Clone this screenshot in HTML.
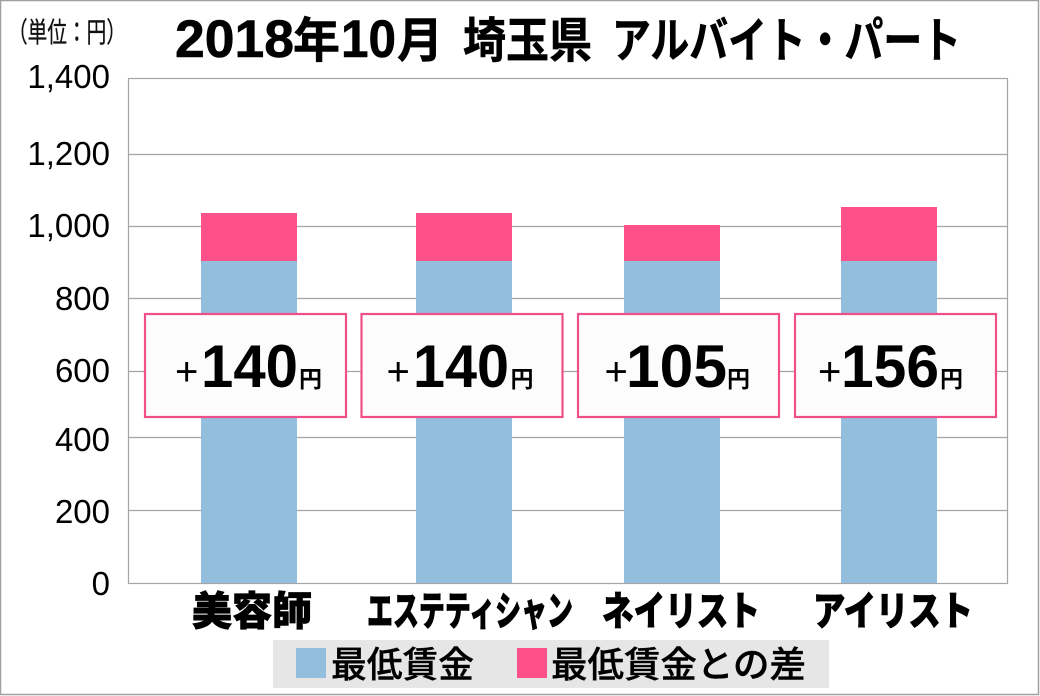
<!DOCTYPE html>
<html>
<head>
<meta charset="utf-8">
<style>
  html,body{margin:0;padding:0;background:#fff;}
  svg{display:block;}
  .jp{font-family:"Liberation Sans","Noto Sans CJK JP",sans-serif;}
  .num{font-family:"Liberation Sans",sans-serif;}
</style>
</head>
<body>
<svg width="1040" height="696" viewBox="0 0 1040 696" xmlns="http://www.w3.org/2000/svg">
  <rect x="0" y="0" width="1040" height="696" fill="#ffffff"/>
  <rect x="0.5" y="0.5" width="1038" height="694" fill="none" stroke="#a0a0a0" stroke-width="1.5"/>

  <!-- unit label -->
  <text class="jp" x="8" y="42" font-size="28" textLength="118" lengthAdjust="spacingAndGlyphs" fill="#111" stroke="#111" stroke-width="0.3">（単位：円）</text>

  <!-- title -->
  <g font-weight="bold" fill="#000" stroke="#000" stroke-width="0.6">
    <text class="num" x="175" y="57" font-size="53" textLength="119" lengthAdjust="spacingAndGlyphs">2018</text>
    <text class="jp" x="293" y="57" font-size="48" textLength="47" lengthAdjust="spacingAndGlyphs">年</text>
    <text class="num" x="341" y="57" font-size="53" textLength="55" lengthAdjust="spacingAndGlyphs">10</text>
    <text class="jp" x="397" y="57" font-size="48" textLength="46" lengthAdjust="spacingAndGlyphs">月</text>
    <text class="jp" x="463" y="57" font-size="48" textLength="129" lengthAdjust="spacingAndGlyphs">埼玉県</text>
    <text class="jp" x="612" y="57" font-size="48" textLength="349" lengthAdjust="spacingAndGlyphs">アルバイト・パート</text>
  </g>

  <!-- plot area -->
  <rect x="128.5" y="78.5" width="879" height="505" fill="#ffffff" stroke="#a6a6a6" stroke-width="1.2"/>
  <g stroke="#a6a6a6" stroke-width="1.2">
    <line x1="128" y1="154.5" x2="1007" y2="154.5"/>
    <line x1="128" y1="226.5" x2="1007" y2="226.5"/>
    <line x1="128" y1="298.5" x2="1007" y2="298.5"/>
    <line x1="128" y1="371.5" x2="1007" y2="371.5"/>
    <line x1="128" y1="437.5" x2="1007" y2="437.5"/>
    <line x1="128" y1="510.5" x2="1007" y2="510.5"/>
  </g>

  <!-- y tick labels -->
  <g class="num" font-size="33" text-anchor="end" fill="#000">
    <text x="110" y="88">1,400</text>
    <text x="110" y="165">1,200</text>
    <text x="110" y="237">1,000</text>
    <text x="110" y="310">800</text>
    <text x="110" y="382">600</text>
    <text x="110" y="451">400</text>
    <text x="110" y="523">200</text>
    <text x="110" y="595">0</text>
  </g>

  <!-- bars -->
  <g>
    <rect x="201" y="261" width="96" height="322" fill="#93bedd"/>
    <rect x="201" y="213" width="96" height="48" fill="#ff5189"/>
    <rect x="416" y="261" width="96" height="322" fill="#93bedd"/>
    <rect x="416" y="213" width="96" height="48" fill="#ff5189"/>
    <rect x="624" y="261" width="96" height="322" fill="#93bedd"/>
    <rect x="624" y="225" width="96" height="36" fill="#ff5189"/>
    <rect x="841" y="261" width="96" height="322" fill="#93bedd"/>
    <rect x="841" y="207" width="96" height="54" fill="#ff5189"/>
  </g>

  <!-- label boxes -->
  <g fill="#fcfcfd" stroke="#f0508a" stroke-width="2.2">
    <rect x="145" y="314" width="201" height="103"/>
    <rect x="361.5" y="314" width="201" height="103"/>
    <rect x="578" y="314" width="201" height="103"/>
    <rect x="795" y="314" width="201" height="103"/>
  </g>

  <g fill="#000">
    <!-- plus signs -->
    <g class="num" font-size="40">
      <text x="175" y="385">+</text>
      <text x="386.5" y="385">+</text>
      <text x="604.5" y="385">+</text>
      <text x="818" y="385">+</text>
    </g>
    <g class="num" font-size="60" font-weight="bold">
      <text x="201" y="387" textLength="97" lengthAdjust="spacingAndGlyphs">140</text>
      <text x="413" y="387" textLength="96" lengthAdjust="spacingAndGlyphs">140</text>
      <text x="626" y="387" textLength="101" lengthAdjust="spacingAndGlyphs">105</text>
      <text x="841" y="387" textLength="98" lengthAdjust="spacingAndGlyphs">156</text>
    </g>
    <g class="jp" font-size="23" font-weight="bold">
      <text x="299" y="387">円</text>
      <text x="510.5" y="387">円</text>
      <text x="727" y="387">円</text>
      <text x="940" y="387">円</text>
    </g>
  </g>

  <!-- category labels -->
  <g class="jp" font-weight="900" font-size="40" fill="#000" stroke="#000" stroke-width="0.8">
    <text x="192" y="625" textLength="120" lengthAdjust="spacingAndGlyphs">美容師</text>
    <text x="367" y="625" textLength="206" lengthAdjust="spacingAndGlyphs">エステティシャン</text>
    <text x="602" y="625" textLength="158" lengthAdjust="spacingAndGlyphs">ネイリスト</text>
    <text x="813" y="625" textLength="160" lengthAdjust="spacingAndGlyphs">アイリスト</text>
  </g>

  <!-- legend -->
  <rect x="273" y="640" width="556" height="48" fill="#e6e6e6"/>
  <rect x="296" y="648" width="30" height="30" fill="#93bedd"/>
  <rect x="517" y="648" width="30" height="30" fill="#ff5189"/>
  <g class="jp" font-size="36" font-weight="500" fill="#000" stroke="#000" stroke-width="0.4">
    <text x="331" y="677" textLength="143" lengthAdjust="spacingAndGlyphs">最低賃金</text>
    <text x="551" y="677" textLength="255" lengthAdjust="spacingAndGlyphs">最低賃金との差</text>
  </g>
</svg>
</body>
</html>
